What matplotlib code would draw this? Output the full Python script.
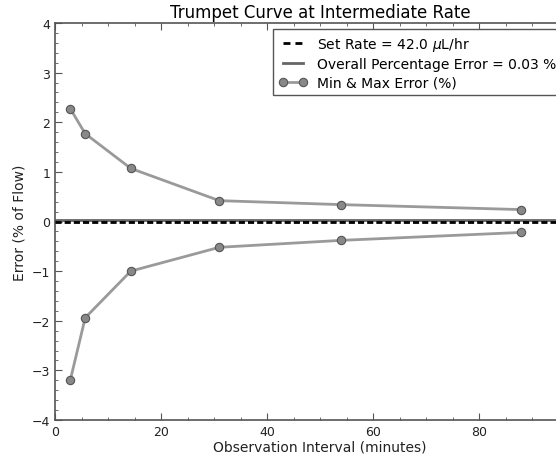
import matplotlib
matplotlib.use("Agg")
import matplotlib.pyplot as plt
from matplotlib.lines import Line2D
from matplotlib.ticker import AutoMinorLocator

# -----------------------------
# Data
# -----------------------------
interval_min = [2.9, 5.7, 14.3, 31.0, 54.0, 88.0]
max_error = [2.27, 1.77, 1.07, 0.42, 0.34, 0.24]
min_error = [-3.19, -1.94, -1.00, -0.52, -0.38, -0.22]
set_rate = 42.0
overall_error = 0.03

fig = plt.figure(figsize=(5.56, 4.56), dpi=100)
# axes run past the right edge of the figure, like the reference
ax = fig.add_axes([55 / 556, 35 / 456, 530 / 556, 397 / 456])

spine_col = "#555555"
line_col = "#9a9a9a"
marker_kw = dict(markersize=6, markerfacecolor="#888888",
                 markeredgecolor="#555555", markeredgewidth=0.8)

ax.axhline(0, color="black", linestyle="--", linewidth=2, dashes=(2.2, 1.1),
           zorder=3)
ax.axhline(overall_error, color="#666666", linewidth=2, zorder=2)
ax.plot(interval_min, max_error, "-o", color=line_col, linewidth=2, **marker_kw)
ax.plot(interval_min, min_error, "-o", color=line_col, linewidth=2, **marker_kw)

ax.set_xlim(0, 100)
ax.set_ylim(-4, 4)
ax.set_xticks([0, 20, 40, 60, 80])
ax.set_yticks([-4, -3, -2, -1, 0, 1, 2, 3, 4])
ax.xaxis.set_minor_locator(AutoMinorLocator(4))
ax.yaxis.set_minor_locator(AutoMinorLocator(5))
ax.tick_params(which="both", direction="in", top=True, right=True,
               color=spine_col, labelsize=9, labelcolor="#222222")
ax.tick_params(which="major", length=5)
ax.tick_params(which="minor", length=2.5)
for s in ax.spines.values():
    s.set_color(spine_col)
    s.set_linewidth(1.2)

ax.set_xlabel("Observation Interval (minutes)", fontsize=10, color="#222222",
              labelpad=1)
ax.set_ylabel("Error (% of Flow)", fontsize=10, color="#222222")
ax.set_title("Trumpet Curve at Intermediate Rate", fontsize=12, pad=4)

# legend proxies (dash pattern a little looser in the key)
handles = [
    Line2D([], [], color="black", linewidth=2, linestyle="--", dashes=(2.5, 1.8)),
    Line2D([], [], color="#666666", linewidth=2),
    Line2D([], [], color=line_col, linewidth=2, marker="o", **marker_kw),
]
labels = [
    f"Set Rate = {set_rate:.1f} $\\mu$L/hr",
    f"Overall Percentage Error = {overall_error:.2f} %",
    "Min & Max Error (%)",
]
ax.legend(handles, labels, loc="upper left",
          bbox_to_anchor=(218 / 530, 1 - 6 / 397),
          fontsize=10, numpoints=2, handlelength=2.05, fancybox=False,
          framealpha=1, edgecolor="#555555", borderaxespad=0,
          labelspacing=0.33, handletextpad=0.75)

fig.savefig("out.png", dpi=100)
